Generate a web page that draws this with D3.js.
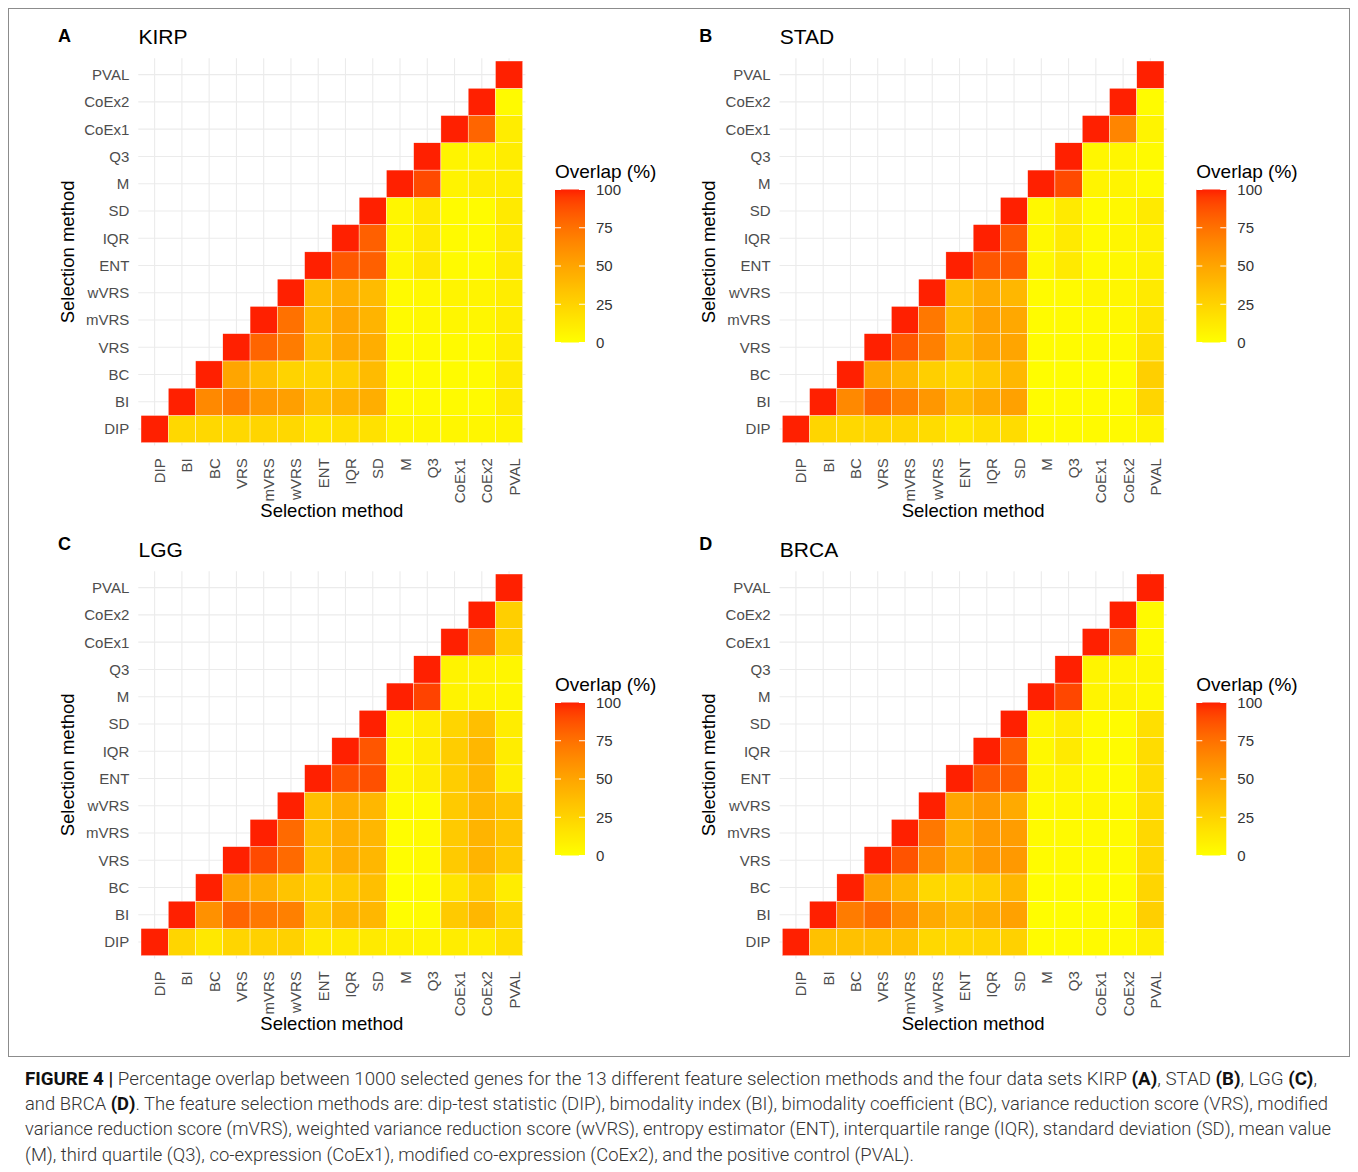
<!DOCTYPE html>
<html>
<head>
<meta charset="utf-8">
<script src="https://cdn.jsdelivr.net/npm/d3@7"></script>
<style>
  html, body { margin: 0; padding: 0; background: #fff; }
  svg { display: block; }
</style>
</head>
<body>
<svg id="chart" width="1358" height="1172"></svg>
<script>
// ---------------- DATA ----------------
const methods = ["DIP","BI","BC","VRS","mVRS","wVRS","ENT","IQR","SD","M","Q3","CoEx1","CoEx2","PVAL"];
const legendTicks = [0, 25, 50, 75, 100];
const panelLetters = ["A","B","C","D"];
const panelNames = ["KIRP","STAD","LGG","BRCA"];

// row i (y = methods[i]) holds overlap with columns methods[i..13]
const kirp = [
  [100,22,22,22,24,22,14,18,17,5,5,5,5,7],
  [100,64,70,57,53,36,43,45,3,3,3,3,12],
  [100,50,36,25,23,27,38,2,2,2,2,12],
  [100,80,70,35,48,45,3,3,3,3,10],
  [100,75,38,50,42,3,4,5,5,10],
  [100,38,45,38,3,4,6,6,10],
  [100,85,82,5,13,3,3,12],
  [100,82,5,12,3,3,12],
  [100,5,12,2,2,12],
  [100,90,7,10,10],
  [100,6,7,10],
  [100,80,10],
  [100,3],
  [100]
];
const stad = [
  [100,24,22,24,24,20,13,18,20,3,3,3,3,7],
  [100,64,80,68,57,38,47,52,2,2,2,2,24],
  [100,50,40,27,22,30,40,1,1,1,1,27],
  [100,85,68,38,50,50,2,2,3,3,18],
  [100,72,38,52,48,2,3,3,4,15],
  [100,38,47,40,2,3,5,5,12],
  [100,86,84,4,12,3,4,8],
  [100,85,4,12,3,5,8],
  [100,4,12,2,4,12],
  [100,90,6,6,3],
  [100,5,5,3],
  [100,66,6],
  [100,2],
  [100]
];
const lgg = [
  [100,24,13,24,26,26,12,12,12,8,6,10,10,18],
  [100,60,80,72,68,30,42,40,1,2,30,40,24],
  [100,52,45,33,25,30,36,0,1,15,28,10],
  [100,90,78,33,45,40,1,3,30,42,30],
  [100,78,36,45,40,1,3,30,42,33],
  [100,36,45,40,2,2,30,40,33],
  [100,88,88,5,10,28,40,10],
  [100,86,4,10,28,40,10],
  [100,5,10,24,36,10],
  [100,92,7,7,5],
  [100,7,7,5],
  [100,72,27],
  [100,27],
  [100]
];
const brca = [
  [100,35,35,35,35,22,22,24,26,2,2,3,3,9],
  [100,70,78,63,47,38,45,52,1,1,2,2,27],
  [100,53,40,22,22,27,40,1,1,1,1,24],
  [100,87,62,45,56,56,2,3,2,2,22],
  [100,72,45,56,54,3,3,3,3,22],
  [100,50,56,47,3,4,5,3,20],
  [100,85,83,5,6,3,2,20],
  [100,83,4,12,2,2,20],
  [100,5,11,2,2,18],
  [100,91,6,7,4],
  [100,6,5,5],
  [100,82,3],
  [100,3],
  [100]
];
const datasets = [kirp, stad, lgg, brca];

// ---------------- LAYOUT ----------------
const svg = d3.select("#chart");
const FONT = "'Liberation Sans', Arial, Helvetica, sans-serif";
const color = d3.scaleLinear().domain([0, 100]).range(["#FFFF00", "#FF2000"]).interpolate(d3.interpolateLab);

// outer frame
svg.append("rect")
  .attr("x", 8.5).attr("y", 8.5).attr("width", 1341).attr("height", 1048)
  .attr("fill", "none").attr("stroke", "#8c8c8c").attr("stroke-width", 1);

const offsets = [[0, 0], [641.3, 0], [0, 513], [641.3, 513]];
const letterY = [42, 42, 550, 550];

offsets.forEach(([ox, oy], p) => {
  const data = datasets[p];
  const x0 = 141 + ox, x1 = 522.7 + ox;
  const y0 = 61 + oy, y1 = 442.7 + oy;
  const x = d3.scaleBand().domain(methods).range([x0, x1]);
  const y = d3.scaleBand().domain(methods.slice().reverse()).range([y0, y1]);
  const bw = x.bandwidth();
  const ext = bw * 0.1;
  const g = svg.append("g");

  // grid
  g.append("g").selectAll("line").data(methods).join("line")
    .attr("x1", d => x(d) + bw / 2).attr("x2", d => x(d) + bw / 2)
    .attr("y1", y0 - ext).attr("y2", y1 + ext)
    .attr("stroke", "#EBEBEB").attr("stroke-width", 1.1);
  g.append("g").selectAll("line").data(methods).join("line")
    .attr("y1", d => y(d) + bw / 2).attr("y2", d => y(d) + bw / 2)
    .attr("x1", x0 - ext).attr("x2", x1 + ext)
    .attr("stroke", "#EBEBEB").attr("stroke-width", 1.1);

  // tiles
  const cells = [];
  data.forEach((row, i) => row.forEach((v, k) => cells.push({ r: methods[i], c: methods[i + k], v })));
  g.append("g").selectAll("rect").data(cells).join("rect")
    .attr("x", d => x(d.c)).attr("y", d => y(d.r))
    .attr("width", bw).attr("height", y.bandwidth())
    .attr("fill", d => color(d.v))
    .attr("stroke", "#ffffff").attr("stroke-width", 0.4);

  // y tick labels
  g.append("g").selectAll("text").data(methods).join("text")
    .attr("x", x0 - 11.7).attr("y", d => y(d) + bw / 2).attr("dy", "0.36em")
    .attr("text-anchor", "end").attr("font-family", FONT).attr("font-size", 15)
    .attr("fill", "#4d4d4d").text(d => d);

  // x tick labels (rotated)
  g.append("g").selectAll("text").data(methods).join("text")
    .attr("transform", d => `translate(${x(d) + bw / 2 + 10.5},${y1 + 15.5}) rotate(-90)`)
    .attr("text-anchor", "end").attr("font-family", FONT).attr("font-size", 15)
    .attr("fill", "#4d4d4d").text(d => d);

  // axis titles
  g.append("text")
    .attr("x", (x0 + x1) / 2).attr("y", 517 + oy)
    .attr("text-anchor", "middle").attr("font-family", FONT).attr("font-size", 18.5)
    .attr("fill", "#000").text("Selection method");
  g.append("text")
    .attr("transform", `translate(${74 + ox},${(y0 + y1) / 2}) rotate(-90)`)
    .attr("text-anchor", "middle").attr("font-family", FONT).attr("font-size", 18.5)
    .attr("fill", "#000").text("Selection method");

  // panel letter + title
  g.append("text").attr("x", 58 + ox).attr("y", letterY[p])
    .attr("font-family", FONT).attr("font-weight", "bold").attr("font-size", 18)
    .attr("fill", "#000").text(panelLetters[p]);
  g.append("text").attr("x", 138.5 + ox).attr("y", 43.5 + oy)
    .attr("font-family", FONT).attr("font-size", 21)
    .attr("fill", "#000").text(panelNames[p]);

  // legend
  const lx = 555 + ox, lw = 30;
  const ly0 = 189.5 + oy, ly1 = 342.5 + oy;
  const ls = d3.scaleLinear().domain([0, 100]).range([ly1, ly0]);
  const gradId = "grad" + p;
  const grad = svg.append("defs").append("linearGradient")
    .attr("id", gradId).attr("x1", 0).attr("y1", 1).attr("x2", 0).attr("y2", 0);
  d3.range(0, 101, 5).forEach(v => grad.append("stop")
    .attr("offset", v / 100).attr("stop-color", color(v)));
  g.append("text").attr("x", lx).attr("y", 178 + oy)
    .attr("font-family", FONT).attr("font-size", 19).attr("fill", "#000").text("Overlap (%)");
  g.append("rect").attr("x", lx).attr("y", ly0).attr("width", lw).attr("height", ly1 - ly0)
    .attr("fill", `url(#${gradId})`);
  const lt = g.append("g");
  legendTicks.forEach(v => {
    lt.append("line").attr("x1", lx).attr("x2", lx + 6).attr("y1", ls(v)).attr("y2", ls(v))
      .attr("stroke", "#fff").attr("stroke-width", 1);
    lt.append("line").attr("x1", lx + lw - 6).attr("x2", lx + lw).attr("y1", ls(v)).attr("y2", ls(v))
      .attr("stroke", "#fff").attr("stroke-width", 1);
    lt.append("text").attr("x", lx + 41).attr("y", ls(v)).attr("dy", "0.36em")
      .attr("font-family", FONT).attr("font-size", 15).attr("fill", "#333").text(v);
  });
});

// ---------------- CAPTION ----------------
const CAP = "Roboto, 'Liberation Sans', Arial, sans-serif";
const capLines = [
  { w: 1292, parts: [["FIGURE 4 | ", true], ["Percentage overlap between 1000 selected genes for the 13 different feature selection methods and the four data sets KIRP ", false], ["(A)", true], [", STAD ", false], ["(B)", true], [", LGG ", false], ["(C)", true], [",", false]] },
  { w: 1303, parts: [["and BRCA ", false], ["(D)", true], [". The feature selection methods are: dip-test statistic (DIP), bimodality index (BI), bimodality coefficient (BC), variance reduction score (VRS), modified", false]] },
  { w: 1306, parts: [["variance reduction score (mVRS), weighted variance reduction score (wVRS), entropy estimator (ENT), interquartile range (IQR), standard deviation (SD), mean value", false]] },
  { w: 889, parts: [["(M), third quartile (Q3), co-expression (CoEx1), modified co-expression (CoEx2), and the positive control (PVAL).", false]] }
];
capLines.forEach((ln, i) => {
  const t = svg.append("text").attr("x", 25).attr("y", 1085 + i * 25.2)
    .attr("font-family", CAP).attr("font-size", 17.5).attr("font-weight", 300).attr("fill", "#333")
    .attr("textLength", ln.w).attr("lengthAdjust", "spacingAndGlyphs");
  ln.parts.forEach(([s, b]) => t.append("tspan").attr("font-weight", b ? 700 : 300)
    .attr("fill", b ? "#111" : "#333").text(s));
});
</script>
</body>
</html>
